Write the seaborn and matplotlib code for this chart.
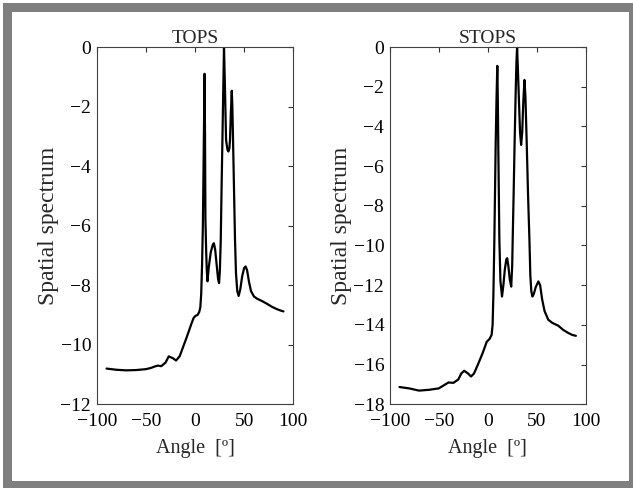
import numpy as np
import pandas as pd
import seaborn as sns
import matplotlib
matplotlib.use("Agg")
import matplotlib.pyplot as plt
from matplotlib.patches import Rectangle

# ---------------- data ----------------
tops_angle = [-90, -80, -70, -60, -50, -45, -40, -37.7, -34.3, -30, -26.7, -22.6, -19.2,
              -15.5, -12.5, -9, -5.8, -3.5, -1.4, 0.5, 2.6, 4.3, 5.4, 6.3, 7.2, 8.0, 8.7,
              9.3, 9.7, 10.2, 10.6, 11.4, 12.0, 12.7, 14.0, 16.0, 18.0, 19.2, 20.5, 22.0,
              23.5, 24.5, 25.3, 26.2, 27.0, 27.9, 28.7, 29.5, 30.5, 31.6, 33.0, 34.0, 35.0,
              35.6, 36.5, 37.4, 38.0, 38.7, 39.7, 40.7, 41.7, 43.0, 44.4, 46.0, 48.0, 50.0,
              51.5, 53.0, 55.0, 57.0, 60.0, 63.0, 68.0, 73.0, 78.0, 83.0, 87.0, 90.0]
tops_value = [-10.80, -10.84, -10.86, -10.85, -10.82, -10.78, -10.72, -10.70, -10.72, -10.60,
              -10.39, -10.45, -10.53, -10.38, -10.11, -9.80, -9.50, -9.28, -9.10, -9.03,
              -9.00, -8.90, -8.75, -8.30, -7.30, -6.00, -4.00, -2.20, -0.90, -3.00, -5.80,
              -6.90, -7.50, -7.87, -7.40, -6.90, -6.65, -6.59, -6.80, -7.30, -7.80, -7.93,
              -7.50, -6.48, -4.80, -3.12, -1.50, 0.00, -1.40, -3.12, -3.45, -3.51, -3.40,
              -3.12, -2.20, -1.47, -2.00, -3.12, -4.80, -6.48, -7.60, -8.20, -8.36, -8.15,
              -7.70, -7.42, -7.37, -7.50, -7.90, -8.20, -8.38, -8.45, -8.53, -8.62, -8.72,
              -8.80, -8.85, -8.88]

stops_angle = [-90, -80, -70, -60, -50, -45, -40, -35, -30, -27, -24, -20, -17, -14, -10,
               -5, -1, 2, 4, 5.0, 5.8, 6.8, 8.1, 9.0, 9.8, 10.3, 10.8, 11.9, 13.0, 14.6, 16.0,
               17.5, 19.0, 19.9, 21.0, 22.5, 24.0, 25.0, 25.5, 26.5, 27.5, 28.5, 29.3, 30.0,
               31.0, 32.1, 33.0, 34.1, 35.2, 36.3, 37.5, 38.5, 39.9, 41.2, 42.6, 43.5, 44.5,
               45.6, 47.0, 49.0, 51.7, 53.5, 55.5, 58.0, 61.8, 66.0, 72.0, 77.0, 82.0, 86.0,
               90.0]
stops_value = [-17.13, -17.20, -17.31, -17.27, -17.20, -17.05, -16.90, -16.92, -16.75,
               -16.45, -16.31, -16.45, -16.60, -16.45, -16.00, -15.40, -14.85, -14.70,
               -14.50, -14.00, -12.50, -9.70, -5.00, -2.60, -0.95, -2.60, -5.00, -9.70,
               -11.80, -12.57, -12.00, -11.20, -10.70, -10.64, -11.00, -11.70, -12.07,
               -11.00, -9.70, -7.30, -4.70, -2.40, -0.80, 0.00, -1.40, -3.00, -4.30, -4.93,
               -4.30, -2.80, -1.66, -2.50, -5.00, -7.50, -9.74, -11.50, -12.30, -12.57,
               -12.45, -12.10, -11.81, -12.00, -12.70, -13.30, -13.74, -13.90, -14.04,
               -14.25, -14.40, -14.50, -14.55]

titles = ["TOPS", "STOPS"]
x_ticks = [-100, -50, 0, 50, 100]
left_y_ticks = [-12, -10, -8, -6, -4, -2, 0]
right_y_ticks = [-18, -16, -14, -12, -10, -8, -6, -4, -2, 0]

# ---------------- style ----------------
sns.set_theme(style="white")
plt.rcParams["font.family"] = ["Liberation Serif", "DejaVu Serif"]
plt.rcParams["axes.unicode_minus"] = True

W, H = 633, 488
fig = plt.figure(figsize=(W / 100, H / 100), dpi=100)
fig.patch.set_facecolor("white")

# gray frame
fig.patches.append(Rectangle((3 / W, 0), 1, (H - 3) / H, transform=fig.transFigure,
                             facecolor="#7f7f7f", edgecolor="none", zorder=-10))
fig.patches.append(Rectangle((12 / W, 7 / H), (629 - 12) / W, (476 - 7) / H,
                             transform=fig.transFigure, facecolor="white",
                             edgecolor="none", zorder=-9))

ax_top, ax_bottom = 47, 404.3
axes_px = [(96.7, 293.3), (389.7, 585.7)]
axes = []
for (x0, x1) in axes_px:
    ax = fig.add_axes([x0 / W, (H - ax_bottom) / H, (x1 - x0) / W, (ax_bottom - ax_top) / H])
    ax.set_facecolor("white")
    axes.append(ax)

series = [
    (tops_angle, tops_value, left_y_ticks, (-12, 0)),
    (stops_angle, stops_value, right_y_ticks, (-18, 0)),
]

fs = 14
for ax, title, (xa, ya, yt, ylim) in zip(axes, titles, series):
    df = pd.DataFrame({"angle": xa, "value": ya})
    sns.lineplot(data=df, x="angle", y="value", ax=ax, color="black", linewidth=1.6,
                 estimator=None, sort=False)
    ax.set_xlim(-100, 100)
    ax.set_ylim(*ylim)
    ax.set_xticks(x_ticks)
    ax.set_yticks(yt)
    ax.set_xticklabels([f"{t}".replace("-", "\u2212") for t in x_ticks])
    ax.set_yticklabels([f"{t}".replace("-", "\u2212") for t in yt])
    ax.tick_params(direction="in", top=True, right=True, length=3.5, width=0.8,
                   colors="#333333", labelcolor="black", labelsize=fs)
    ax.tick_params(axis="x", pad=6)
    ax.tick_params(axis="y", pad=4)
    for sp in ax.spines.values():
        sp.set_visible(True)
        sp.set_color("#404040")
        sp.set_linewidth(0.8)
    ax.set_title(title, fontsize=fs, pad=3)
    ax.set_xlabel("Angle  [º]", fontsize=14.5, labelpad=7)
    ax.set_ylabel("Spatial spectrum", fontsize=17, labelpad=1)
    ax.grid(False)

fig.savefig("out.png", dpi=100)
